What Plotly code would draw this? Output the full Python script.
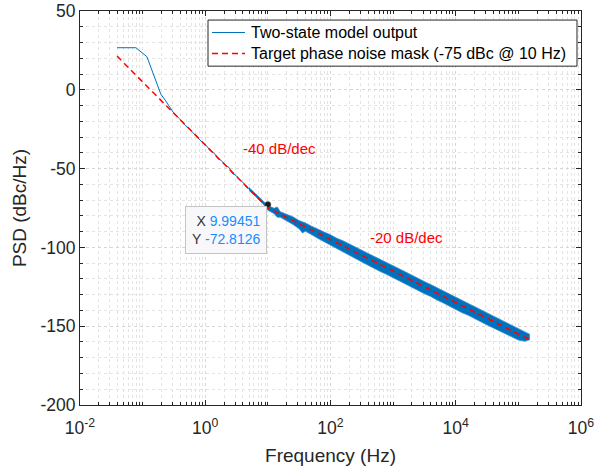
import plotly.graph_objects as go
import numpy as np

# ---- data ----
# thin (low-frequency) part of the two-state model output
low_freq = [0.039, 0.078, 0.117, 0.156, 0.195, 0.234, 0.273, 0.312, 0.39, 0.47, 0.55,
            0.66, 0.78, 0.90, 1.05, 1.21, 1.40, 1.60, 1.80, 2.10, 2.40, 2.70, 3.10,
            3.50, 4.00, 4.50, 5.00, 5.60, 6.30, 7.10, 8.00]
low_psd = [26.7, 26.7, 21.0, 7.3, -2.7, -7.1, -11.4, -14.6, -18.4, -22.3, -24.6,
           -27.9, -30.8, -33.4, -35.5, -38.9, -40.3, -43.8, -44.8, -47.9, -49.3, -53.0, -54.3,
           -56.9, -58.7, -61.8, -62.9, -65.2, -66.8, -69.4, -70.6]

# envelope of the dense noisy band (upper / lower edge)
band_freq = [5.0, 6.3, 7.9, 10.0, 12.6, 14.1, 15.8, 20.0, 25.1, 31.6, 35.5, 39.8, 50.1, 63.1, 79.4,
             100, 126, 158, 200, 251, 316, 398, 501, 631, 794,
             1000, 1259, 1585, 1995, 2512, 3162, 3981, 5012, 6310, 7943,
             10000, 12590, 15850, 19950, 25120, 31620, 39810, 50120, 63100, 79430,
             100000, 125900, 151000]
band_upper = [-62.0, -65.8, -69.6, -73.4, -75.2, -74.3, -77.4, -79.0, -80.6, -83.0, -83.6, -84.5, -86.6, -88.2, -90.3,
              -92.0, -94.2, -95.8, -98.0, -99.7, -101.8, -103.8, -105.7, -107.5, -109.8,
              -111.6, -113.7, -115.6, -117.6, -119.4, -121.7, -123.6, -125.6, -127.4, -129.7,
              -131.6, -133.6, -135.5, -137.7, -139.6, -141.6, -143.5, -145.6, -147.6, -149.4,
              -151.4, -153.5, -155.1]
band_lower = [-63.8, -67.6, -71.2, -76.4, -78.6, -80.8, -80.9, -83.4, -85.4, -88.2, -90.8, -89.8, -91.9, -94.3, -96.5,
              -98.6, -101.0, -102.8, -105.3, -107.1, -109.2, -111.3, -113.1, -115.4, -117.2,
              -119.4, -121.1, -123.4, -125.2, -127.3, -129.4, -131.1, -133.4, -135.2, -137.3,
              -139.2, -141.4, -143.1, -145.3, -147.0, -149.2, -151.1, -152.9, -155.1, -157.0,
              -158.8, -159.6, -158.6]

# target phase noise mask (-75 dBc @ 10 Hz, -40 dB/dec then -20 dB/dec)
mask_freq = [0.039, 10.0, 157000]
mask_psd = [21.4, -75.0, -158.9]

# data tip
tip_x = 9.99451
tip_y = -72.8126

# slope labels
slope_text = ["-40 dB/dec", "-20 dB/dec"]
slope_x = [15.6, 1650]
slope_y = [-37.2, -93.4]

legend_names = ["Two-state model output", "Target phase noise mask (-75 dBc @ 10 Hz)"]

x_tickvals = [1e-2, 1e0, 1e2, 1e4, 1e6]
x_ticktext = ["10<sup>-2</sup>", "10<sup>0</sup>", "10<sup>2</sup>", "10<sup>4</sup>", "10<sup>6</sup>"]
y_tickvals = [-200, -150, -100, -50, 0, 50]
y_ticktext = ["-200", "-150", "-100", "-50", "0", "50"]

BLUE = "#0072BD"
RED = "#FF0000"
FONT = "Liberation Sans, Arial, Helvetica, sans-serif"
AX = "#262626"
GRID = "#d6d6d6"
GRID_MINOR = "#e4e4e4"

fig = go.Figure()

# dense band as filled polygon
fig.add_trace(go.Scatter(
    x=band_freq + band_freq[::-1],
    y=band_upper + band_lower[::-1],
    fill="toself", fillcolor=BLUE, mode="lines",
    line=dict(color="#3a8fd0", width=0.8), showlegend=False, hoverinfo="skip"))

fig.add_trace(go.Scatter(
    x=low_freq, y=low_psd, mode="lines", name=legend_names[0], showlegend=False,
    line=dict(color=BLUE, width=1)))

fig.add_trace(go.Scatter(
    x=mask_freq, y=mask_psd, mode="lines", name=legend_names[1], showlegend=False,
    line=dict(color=RED, width=1.5, dash="6px,4px")))

fig.add_trace(go.Scatter(
    x=[tip_x], y=[tip_y], mode="markers", showlegend=False,
    marker=dict(color="#1a1a1a", size=6, line=dict(color="#666666", width=0.5))))

for t, xx, yy in zip(slope_text, slope_x, slope_y):
    fig.add_annotation(x=np.log10(xx), y=yy, text=t, showarrow=False,
                       font=dict(family=FONT, size=15, color=RED))

fig.add_annotation(
    x=np.log10(tip_x), y=tip_y, xanchor="right", yanchor="top",
    xshift=-1, yshift=-1, showarrow=False, align="right",
    text=(f"<span style='color:#333333'>X</span> <span style='color:#1a8cff'>{tip_x}</span><br>"
          f"<span style='color:#333333'>Y</span> <span style='color:#1a8cff'>{tip_y}</span>"),
    font=dict(family=FONT, size=14),
    bgcolor="#f8f8fb", bordercolor="#c4c4c4", borderwidth=1, borderpad=6)

# legend box (MATLAB style, compact rows)
lx0, lx1, ly0, ly1 = 0.2555, 0.992, 0.860, 0.977
fig.add_shape(type="rect", xref="paper", yref="paper", x0=lx0, x1=lx1, y0=ly0, y1=ly1,
              line=dict(color=AX, width=1), fillcolor="white", layer="above")
row_y = [0.9454, 0.8921]
styles = [dict(color=BLUE, width=1), dict(color=RED, width=1.5, dash="6px,4px")]
for name, ry, st in zip(legend_names, row_y, styles):
    fig.add_shape(type="line", xref="paper", yref="paper", x0=0.2635, x1=0.3293,
                  y0=ry, y1=ry, line=st, layer="above")
    fig.add_annotation(xref="paper", yref="paper", x=0.3373, y=ry, xanchor="left",
                       yanchor="middle", text=name, showarrow=False,
                       font=dict(family=FONT, size=16, color="#000000"))

fig.update_layout(
    width=612, height=470,
    margin=dict(l=80, r=31, t=11, b=65, autoexpand=False),
    paper_bgcolor="white", plot_bgcolor="white",
    font=dict(family=FONT, color=AX),
    showlegend=False,
)

fig.update_xaxes(
    type="log", range=[-2, 6], automargin=False,
    tickvals=x_tickvals, ticktext=x_ticktext,
    tickfont=dict(size=17.5, color=AX), ticklabelstandoff=7,
    title=dict(text="Frequency (Hz)", font=dict(size=19, color=AX), standoff=11),
    showline=True, linecolor=AX, linewidth=1, mirror="ticks",
    ticks="inside", ticklen=5, tickcolor=AX,
    showgrid=True, gridcolor=GRID, griddash="dot", gridwidth=1,
    zeroline=False,
    minor=dict(dtick="D1", ticks="inside", ticklen=3, tickcolor=AX,
               showgrid=True, gridcolor=GRID_MINOR, griddash="dot", gridwidth=1))

fig.update_yaxes(
    range=[-200, 50], tickvals=y_tickvals, ticktext=y_ticktext, automargin=False,
    tickfont=dict(size=17.5, color=AX),
    title=dict(text="PSD (dBc/Hz)", font=dict(size=19, color=AX), standoff=8),
    showline=True, linecolor=AX, linewidth=1, mirror="ticks",
    ticks="inside", ticklen=5, tickcolor=AX,
    showgrid=True, gridcolor=GRID, griddash="dot", gridwidth=1,
    zeroline=False,
    minor=dict(dtick=10, ticks="inside", ticklen=3, tickcolor=AX,
               showgrid=True, gridcolor=GRID_MINOR, griddash="dot", gridwidth=1))

fig.write_html("out.html")
